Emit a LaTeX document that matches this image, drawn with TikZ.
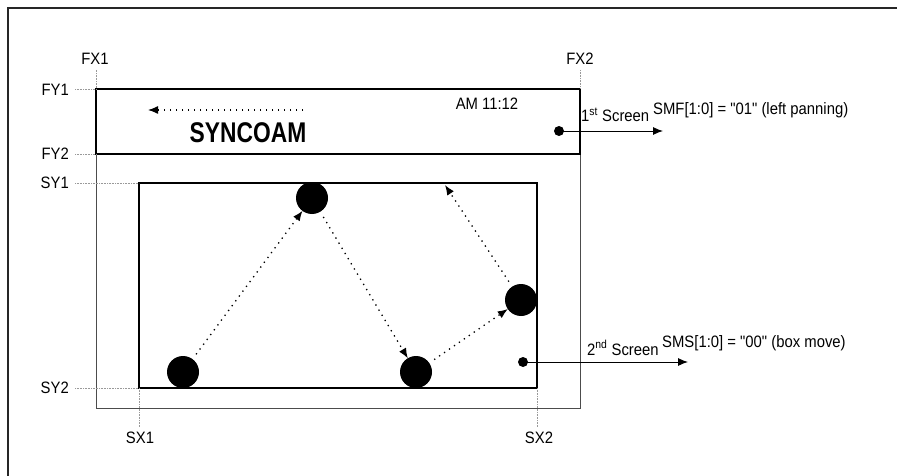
\documentclass[tikz,border=0pt]{standalone}
\usepackage{fontspec}
\setmainfont{Liberation Sans}[FakeStretch=0.9,Ligatures=TeXOff]
\newfontfamily\titlefont{Liberation Sans}[FakeStretch=0.8]
\usepackage{tikz}
\usetikzlibrary{arrows.meta,positioning,calc}

\tikzset{
  lbl/.style={font=\fontsize{16.5}{18}\selectfont,inner sep=0pt},
  guide/.style={gray!80,line width=0.8pt,dash pattern=on 0.8pt off 0.8pt},
  scr/.style={draw,line width=1.6pt},
  ball/.style={circle,fill,minimum size=32pt,inner sep=0pt,outer sep=0pt},
  spot/.style={circle,fill,minimum size=10pt,inner sep=0pt},
  move/.style={->,line width=1.3pt,dash pattern=on 1.3pt off 4.7pt,shorten <=6pt},
  outarr/.style={->,line width=0.9pt}
}

\begin{document}
\begin{tikzpicture}[>={Latex[length=10pt,width=8pt]},x=1pt,y=-1pt]
\useasboundingbox (0,0) rectangle (897,476);
% ---- cornice esterna ----
\draw[gray!30!black,line width=1.5pt] (8,476)--(8,8)--(897,8);
% ---- angoli ----
\coordinate (ftl) at (96,89);
\coordinate (fbr) at (580,154);
\coordinate (stl) at (139,183);
\coordinate (sbr) at (537,388);
% ---- riquadri ----
\draw[gray!60!black,line width=0.9pt] (ftl) rectangle (580,408);
\draw[scr] (ftl) rectangle (fbr);
\draw[scr] (stl) rectangle (sbr);
% ---- etichette e guide ----
\node[lbl] (fx1) at (95,59) {FX1};
\node[lbl] (fx2) at (580,59) {FX2};
\node[lbl,anchor=east] (fy1) at (69,90) {FY1};
\node[lbl,anchor=east] (fy2) at (69,154) {FY2};
\node[lbl,anchor=east] (sy1) at (69,183) {SY1};
\node[lbl,anchor=east] (sy2) at (69,388) {SY2};
\node[lbl] (sx1) at (140,438) {SX1};
\node[lbl] (sx2) at (539,438) {SX2};
\draw[guide] ([yshift=-5pt]ftl |- fx1.south)--(ftl);
\draw[guide] ([yshift=-5pt]fbr |- fx2.south)--(fbr |- ftl);
\draw[guide] ([xshift=6pt]fy1.east |- ftl)--(ftl);
\draw[guide] ([xshift=6pt]fy2.east |- fbr)--(ftl |- fbr);
\draw[guide] ([xshift=6pt]sy1.east |- stl)--(stl);
\draw[guide] ([xshift=6pt]sy2.east |- sbr)--(stl |- sbr);
\draw[guide] (stl |- sbr)--([yshift=5pt]stl |- sx1.north);
\draw[guide] (sbr)--([yshift=5pt]sbr |- sx2.north);
% ---- 1st screen ----
\coordinate (pan0) at (303,110);
\coordinate (pan1) at (148,110);
\draw[move,shorten <=0pt] (pan0)--(pan1);
\node[font=\titlefont\bfseries\fontsize{28.5}{30}\selectfont,inner sep=0pt] (title) at (248,133) {SYNCOAM};
\node[lbl] (clock) at (487,104) {AM 11:12};
\node[spot] (dot1) at (559,131) {};
\coordinate (end1) at (663,131);
\draw[outarr] (dot1.center)--(end1);
\node[lbl,anchor=base west] (scr1) at (581,122) {1\textsuperscript{st} Screen};
\node[lbl,anchor=base west] (smf) at (653,115) {SMF[1:0] = "01" (left panning)};
% ---- 2nd screen ----
\node[ball] (b1) at (183,372) {};
\node[ball] (b2) at (312,198) {};
\node[ball] (b3) at (416,372) {};
\node[ball] (b4) at (521,300) {};
\coordinate (b5) at (445,185);
\draw[move] (b1)--(b2);
\draw[move] (b2)--(b3);
\draw[move] (b3)--(b4);
\draw[move] (b4)--(b5);
\node[spot] (dot2) at (523,362) {};
\coordinate (end2) at (688,362);
\draw[outarr] (dot2.center)--(end2);
\node[lbl,anchor=base west] (scr2) at (587,355) {2\textsuperscript{nd} Screen};
\node[lbl,anchor=base west] (sms) at (662,347) {SMS[1:0] = "00" (box move)};
\end{tikzpicture}
\end{document}
